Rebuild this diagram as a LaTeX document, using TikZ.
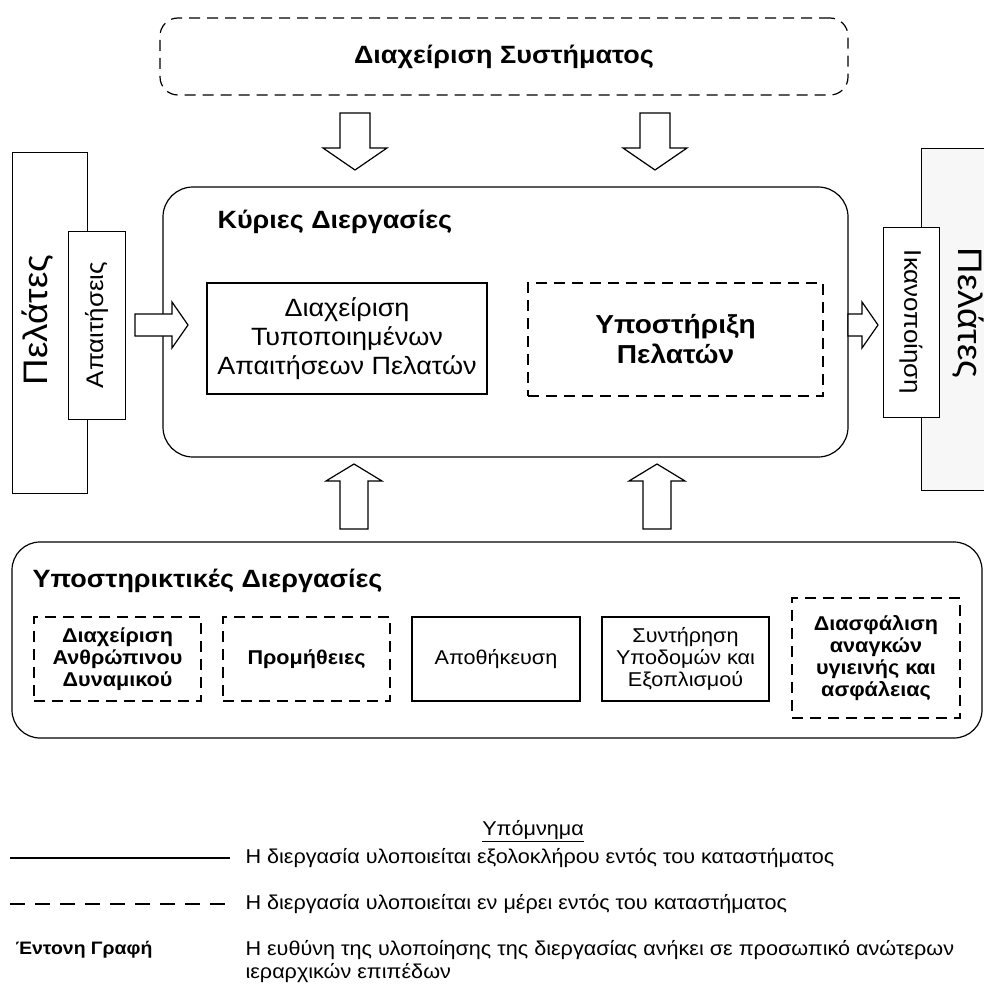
\documentclass[tikz,border=0pt]{standalone}
\usepackage{fontspec}
\setmainfont{Liberation Sans}[FakeStretch=1.08]
\usetikzlibrary{positioning}
\definecolor{pgray}{RGB}{247,247,247}

\begin{document}
\begin{tikzpicture}[x=1pt,y=-1pt,
  group/.style={draw,line width=1.2pt,rounded corners=#1,inner sep=0pt},
  fullproc/.style={draw,line width=2.4pt,align=center,inner sep=0pt,
    font=\fontsize{20}{22}\selectfont},
  partproc/.style={draw,line width=1.3pt,dash pattern=on 11pt off 7pt,align=center,
    inner sep=0pt,font=\fontsize{20}{22}\selectfont\bfseries},
  sidebox/.style={draw,line width=1pt,inner sep=0pt},
  blockarr/.style={draw,line width=1.2pt,fill=white,line join=miter},
  title/.style={font=\fontsize{25}{28}\selectfont\bfseries,anchor=west},
  legtext/.style={font=\fontsize{20}{23}\selectfont,anchor=west,align=left}
]
  \useasboundingbox (0,0) rectangle (984,987);

  % System management
  \node[group=18pt,dash pattern=on 11pt off 7pt,minimum width=688pt,minimum height=77pt,
    font=\fontsize{25}{28}\selectfont\bfseries] (sysmgmt) at (504,56.5) {Διαχείριση Συστήματος};

  % Customers, left and right
  \node[sidebox,minimum width=75pt,minimum height=340pt] (custin) at (49.5,323) {};
  \node[rotate=90,font=\fontsize{34}{40}\selectfont] (custinlbl) at (38,320) {Πελάτες};
  \node[sidebox,fill=white,minimum width=188pt,minimum height=57pt,rotate=90,
    font=\fontsize{24}{28}\selectfont] (reqs) at (96.5,325) {Απαιτήσεις};
  \node[sidebox,fill=pgray,minimum width=79pt,minimum height=341pt] (custout) at (960.5,319.5) {};
  \node[rotate=-90,font=\fontsize{34}{40}\selectfont] (custoutlbl) at (968,313) {Πελάτες};
  \node[sidebox,fill=white,minimum width=190pt,minimum height=56pt,rotate=-90,
    font=\fontsize{24}{28}\selectfont] (satis) at (911,322) {Ικανοποίηση};

  % Core processes
  \node[group=30pt,minimum width=685pt,minimum height=270pt] (core) at (505.5,322) {};
  \node[title] (coretitle) at (214,222) {Κύριες Διεργασίες};
  \node[fullproc,minimum width=280pt,minimum height=111pt,font=\fontsize{25}{29}\selectfont]
    (stdreq) at (347,338.5) {Διαχείριση\\Τυποποιημένων\\Απαιτήσεων Πελατών};
  \node[partproc,minimum width=295pt,minimum height=113pt,font=\fontsize{26}{30}\selectfont\bfseries]
    (custsup) at (675.5,339.5) {Υποστήριξη\\Πελατών};

  % Support processes
  \node[group=28pt,minimum width=970pt,minimum height=196pt] (support) at (497,640) {};
  \node[title] (suptitle) at (29,581) {Υποστηρικτικές Διεργασίες};
  \node[partproc,minimum width=167pt,minimum height=84pt] (hr) at (117.5,659) {Διαχείριση\\Ανθρώπινου\\Δυναμικού};
  \node[partproc,minimum width=167pt,minimum height=84pt] (supply) at (306.5,659) {Προμήθειες};
  \node[fullproc,minimum width=168pt,minimum height=84pt] (store) at (496,659) {Αποθήκευση};
  \node[fullproc,minimum width=167pt,minimum height=84pt] (maint) at (685.5,659) {Συντήρηση\\Υποδομών και\\Εξοπλισμού};
  \node[partproc,minimum width=168pt,minimum height=120pt] (safety) at (876,658) {Διασφάλιση\\αναγκών\\υγιεινής και\\ασφάλειας};

  % Block arrows
  \foreach \cx in {355,655}
    \draw[blockarr] (\cx-15,113) -- (\cx-15,148) -- (\cx-32,148) -- (\cx,170)
      -- (\cx+32,148) -- (\cx+15,148) -- (\cx+15,113) -- cycle;
  \foreach \cx in {354,657}
    \draw[blockarr] (\cx-14,529) -- (\cx-14,481) -- (\cx-28,481) -- (\cx,464)
      -- (\cx+28,481) -- (\cx+14,481) -- (\cx+14,529) -- cycle;
  \foreach \sx/\hx/\tx in {135/172/188, 848/862/878}
    \draw[blockarr] (\sx,314) -- (\hx,314) -- (\hx,302) -- (\tx,325) -- (\hx,348)
      -- (\hx,336) -- (\sx,336) -- cycle;

  % Legend
  \node[font=\fontsize{20}{23}\selectfont] (legend) at (533,831) {\underline{Υπόμνημα}};
  \coordinate (fullA) at (10,858);
  \coordinate (fullB) at (230,858);
  \draw[line width=2.5pt] (fullA) -- (fullB);
  \node[legtext] (fulltxt) at (242,858) {Η διεργασία υλοποιείται εξολοκλήρου εντός του καταστήματος};
  \coordinate (partA) at (10,904);
  \coordinate (partB) at (230,904);
  \draw[line width=1.3pt,dash pattern=on 15pt off 10pt] (partA) -- (partB);
  \node[legtext] (parttxt) at (242,904) {Η διεργασία υλοποιείται εν μέρει εντός του καταστήματος};
  \node[legtext,font=\fontsize{18}{22}\selectfont\bfseries] (boldkey) at (12,950) {Έντονη Γραφή};
  \node[legtext] (boldtxt) at (242,962) {Η ευθύνη της υλοποίησης της διεργασίας ανήκει σε προσωπικό ανώτερων\\ιεραρχικών επιπέδων};
\end{tikzpicture}
\end{document}
